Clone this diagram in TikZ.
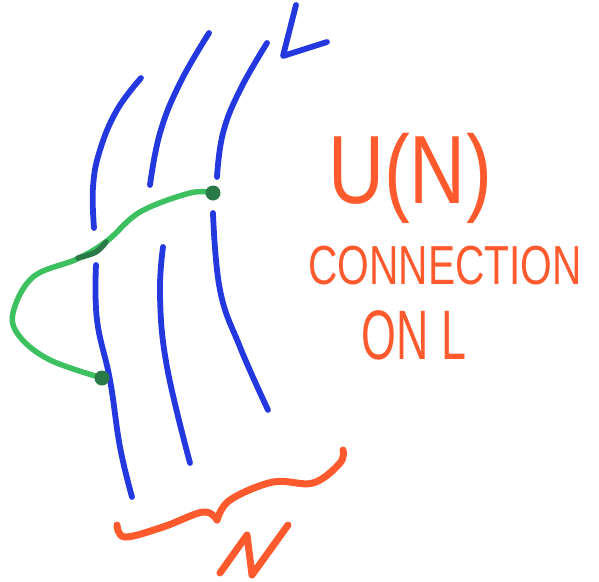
\documentclass[tikz,border=0pt]{standalone}
\usepackage{fontspec}
\setmainfont{Liberation Sans}
\definecolor{bluepen}{HTML}{2438E0}
\definecolor{greenpen}{HTML}{3CC060}
\definecolor{greendot}{HTML}{2A7A48}
\definecolor{redpen}{HTML}{FF5A2E}
\begin{document}
\begin{tikzpicture}[x=1pt,y=-1pt,
  bline/.style={draw=bluepen,line width=5.8pt,line cap=round,line join=round},
  gline/.style={draw=greenpen,line width=5.5pt,line cap=round,line join=round},
  rline/.style={draw=redpen,line width=7pt,line cap=round,line join=round},
  gdot/.style={circle,fill=greendot,inner sep=0pt,minimum size=15pt},
  rtext/.style={text=redpen,inner sep=0pt}]
\useasboundingbox (0,0) rectangle (599,581);
% blue strands
\draw[bline] plot[smooth,tension=0.7] coordinates {(141,78) (117,110) (100,150) (93,187) (94,228)};
\draw[bline] plot[smooth,tension=0.7] coordinates {(96,265) (97,320) (110,380) (120,447) (132,497)};
\draw[bline] plot[smooth,tension=0.7] coordinates {(209,33) (180,83) (160,133) (150,185)};
\draw[bline] plot[smooth,tension=0.7] coordinates {(163,247) (160,297) (167,367) (190,463)};
\draw[bline] plot[smooth,tension=0.7] coordinates {(267,43) (240,90) (223,133) (217,177)};
\draw[bline] plot[smooth,tension=0.7] coordinates {(213,213) (220,290) (240,347) (268,410)};
% L
\draw[bline] (296,5) -- (283,56) -- (327,42);
% green path
\draw[gline] plot[smooth,tension=0.6] coordinates {(213,193) (190,193) (140,212) (107,241) (77,259) (33,277) (13,313) (20,337) (50,360) (102,378)};
\draw[draw=greendot,line width=5.5pt,line cap=round] plot[smooth,tension=0.6] coordinates {(78,258) (96,252) (106,242)};
\node[gdot] (d1) at (213,193) {};
\node[gdot] (d2) at (102,378) {};
% brace
\draw[rline] plot[smooth,tension=0.6] coordinates {(117,525) (125,537) (163,527) (203,512) (217,520)};
\draw[rline] plot[smooth,tension=0.6] coordinates {(217,520) (230,500) (273,482) (313,483) (340,463) (343,450)};
% N
\draw[rline] (220,573) -- (247,535) -- (252,575) -- (288,525);
% texts
\node[rtext,font=\fontsize{97}{97}\selectfont,xscale=0.8] (un) at (410,178) {U(N)};
\node[rtext,font=\fontsize{55}{55}\selectfont,xscale=0.74] (conn) at (445,266) {CONNECTION};
\node[rtext,font=\fontsize{70}{70}\selectfont,xscale=0.64] (onl) at (414,335) {ON L};
\end{tikzpicture}
\end{document}
